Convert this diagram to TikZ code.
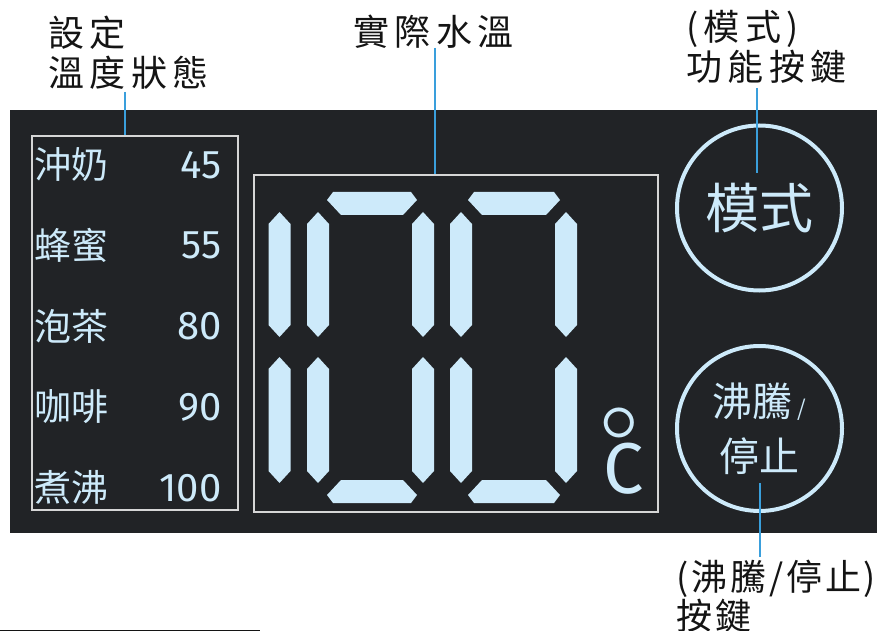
\documentclass[tikz,border=0pt]{standalone}
\usepackage{fontspec}
\setmainfont{Noto Sans CJK TC}
\newfontfamily\thinfont{Fira Sans}
\newfontfamily\ringfont{Latin Modern Roman}
\usetikzlibrary{positioning}
\definecolor{panel}{HTML}{212326}
\definecolor{lcd}{HTML}{CDEAFA}
\definecolor{leadc}{HTML}{3A9FDC}
\definecolor{frame}{HTML}{D6D6D6}
\definecolor{labeltext}{HTML}{141414}

\begin{document}
\begin{tikzpicture}[x=1pt,y=-1pt,thick]
\tikzstyle{lbl}=[anchor=north west,inner sep=0,align=left,text=labeltext,font=\fontsize{36}{40}\selectfont\addfontfeatures{LetterSpace=15}]
\tikzstyle{lcdtxt}=[anchor=west,inner sep=0,text=lcd,font=\fontsize{37}{40}\selectfont]
\tikzstyle{numtxt}=[anchor=east,inner sep=0,text=lcd,font=\thinfont\fontsize{40}{40}\selectfont]
\tikzstyle{frm}=[draw=frame,line width=1.2,inner sep=0]
\tikzstyle{btn}=[circle,draw=lcd,line width=4,inner sep=0,minimum size=165,text=lcd,align=center]
\tikzstyle{lead}=[draw=leadc,line width=1.5]
\tikzstyle{seg}=[fill=lcd]
\useasboundingbox (0,0) rectangle (881,631);
\fill[panel] (10,110) rectangle (877,533);

\node[frm,minimum width=206,minimum height=374] (setbox) at (135,323) {};
\node[frm,minimum width=404,minimum height=337] (tempbox) at (456,343.5) {};
\foreach \name/\val [count=\i] in {沖奶/45,蜂蜜/55,泡茶/80,咖啡/90,煮沸/100} {
  \node[lcdtxt] (item\i) at (34,{165+(\i-1)*80.7}) {\name};
  \node[numtxt] (val\i) at (222,{165+(\i-1)*80.7}) {\val};
}

\foreach \cx in {279.5,318,423,461,566} {
  \fill[seg] (\cx,212) -- (\cx+11,224) -- (\cx+11,325) -- (\cx,337) -- (\cx-11,325) -- (\cx-11,224) -- cycle;
  \fill[seg] (\cx,357) -- (\cx+11,369) -- (\cx+11,471) -- (\cx,483) -- (\cx-11,471) -- (\cx-11,369) -- cycle;
}
\foreach \xa/\xb in {327/417,468/560} {
  \fill[seg] (\xa+6,192) -- (\xb-6,192) -- (\xb,200) -- (\xb-14,215) -- (\xa+14,215) -- (\xa,200) -- cycle;
  \fill[seg] (\xa+14,480) -- (\xb-14,480) -- (\xb,495) -- (\xb-6,503) -- (\xa+6,503) -- (\xa,495) -- cycle;
}
\node[anchor=base west,inner sep=0,text=lcd,font=\thinfont\fontsize{72}{72}\selectfont] (cel) at (619,493) {\makebox[0pt]{\raisebox{7pt}{\ringfont\fontsize{115}{115}\selectfont°}}\kern-16pt C};

\node[btn,font=\fontsize{54}{54}\selectfont] (modebtn) at (759.5,208) {模式};
\node[btn,font=\fontsize{40}{55}\selectfont] (boilbtn) at (759.5,428.5) {沸騰{\fontsize{22}{22}\selectfont\ /}\\停止};

\node[lbl] (setlbl) at (48,16) {設定\\溫度狀態};
\node[lbl] (reallbl) at (353,15) {實際水溫};
\node[lbl] (modelbl) at (686,10) {(模式)\\功能按鍵};
\node[lbl,font=\fontsize{36}{36}\selectfont\addfontfeatures{LetterSpace=8}] (boillbl) at (676,560) {(沸騰/停止)\\按鍵};

\coordinate (setpt) at (125,92);
\coordinate (realpt) at (435,48);
\coordinate (modept) at (757,88);
\coordinate (modeend) at (757,173);
\coordinate (boilpt) at (760,483);
\coordinate (boilend) at (760,557);
\draw[lead] (setpt) -- (setpt |- setbox.north);
\draw[lead] (realpt) -- (realpt |- tempbox.north);
\draw[lead] (modept) -- (modeend);
\draw[lead] (boilpt) -- (boilend);

\coordinate (rulea) at (0,630);
\coordinate (ruleb) at (260,630);
\draw[labeltext,line width=1] (rulea) -- (ruleb);
\end{tikzpicture}
\end{document}
